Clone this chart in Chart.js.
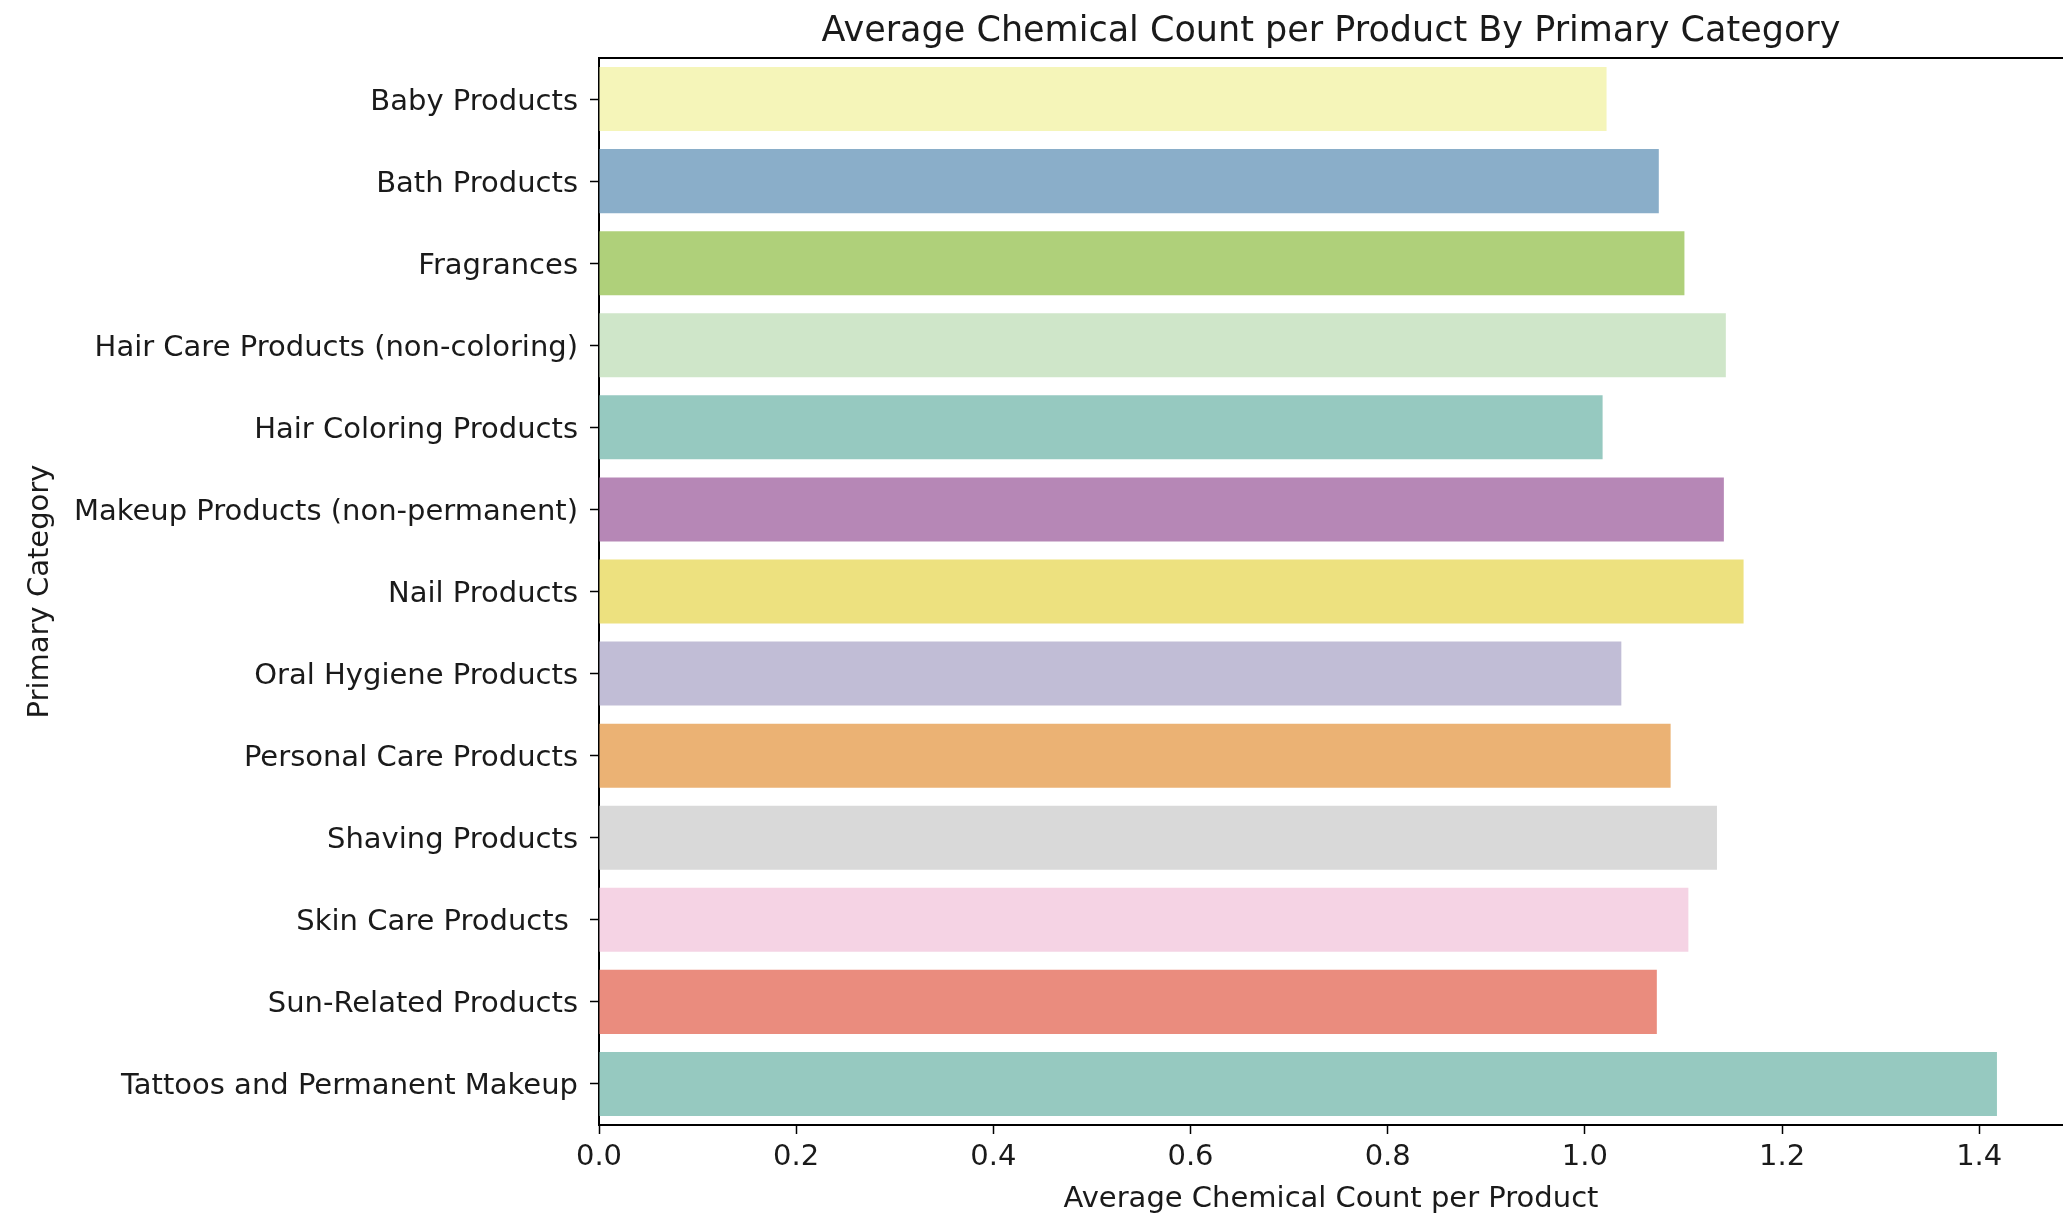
<!DOCTYPE html>
<html>
<head>
<meta charset="utf-8">
<script src="https://cdn.jsdelivr.net/npm/chart.js@4.4.1/dist/chart.umd.min.js"></script>
<style>
    html, body { margin: 0; padding: 0; background: #fff; overflow: hidden; }
    #wrap { width: 2063px; height: 1214px; }
</style>
</head>
<body>
<div id="wrap"><canvas id="chemChart" width="2063" height="1214"></canvas></div>
<script>
// Data
const categories = [
    'Baby Products',
    'Bath Products',
    'Fragrances',
    'Hair Care Products (non-coloring)',
    'Hair Coloring Products',
    'Makeup Products (non-permanent)',
    'Nail Products',
    'Oral Hygiene Products',
    'Personal Care Products',
    'Shaving Products',
    'Skin Care Products ',
    'Sun-Related Products',
    'Tattoos and Permanent Makeup'
];
const avgChemicals = [1.022, 1.075, 1.101, 1.143, 1.018, 1.141, 1.161, 1.037, 1.087, 1.134, 1.105, 1.073, 1.418];
const barColors = [
    '#f5f5b9', '#8aaec9', '#afd07a', '#cfe6c9', '#96c9c0', '#b687b6', '#ede17f',
    '#c1bdd6', '#ebb274', '#d9d9d9', '#f5d3e4', '#ea8c7e', '#96c9c0'
];
const xTickValues = [0.0, 0.2, 0.4, 0.6, 0.8, 1.0, 1.2, 1.4];

const FONT = "'DejaVu Sans', sans-serif";
const TEXT = '#1a1a1a';

// top spine (matplotlib frame); right spine falls outside the picture
const topSpine = {
    id: 'topSpine',
    afterDraw(chart) {
        const { ctx, chartArea } = chart;
        ctx.save();
        ctx.strokeStyle = '#000';
        ctx.lineWidth = 2;
        ctx.beginPath();
        ctx.moveTo(chartArea.left, chartArea.top);
        ctx.lineTo(chartArea.right + 5, chartArea.top);
        ctx.stroke();
        ctx.restore();
    }
};

const ctx = document.getElementById('chemChart').getContext('2d');
new Chart(ctx, {
    type: 'bar',
    data: {
        labels: categories,
        datasets: [{
            data: avgChemicals,
            backgroundColor: barColors,
            borderWidth: 0,
            categoryPercentage: 1.0,
            barPercentage: 0.78
        }]
    },
    plugins: [topSpine],
    options: {
        indexAxis: 'y',
        responsive: false,
        animation: false,
        devicePixelRatio: 1,
        layout: { padding: { left: 0, right: 0, top: 0, bottom: 0 } },
        plugins: {
            legend: { display: false },
            tooltip: { enabled: false },
            title: {
                display: true,
                fullSize: false,
                text: 'Average Chemical Count per Product By Primary Category',
                color: TEXT,
                font: { family: FONT, size: 35, weight: 'normal', lineHeight: 1.2 },
                padding: { top: 11, bottom: 5 }
            }
        },
        scales: {
            x: {
                type: 'linear',
                min: 0,
                max: 1.485,
                afterBuildTicks: (scale) => {
                    scale.ticks = xTickValues.map(v => ({ value: v }));
                },
                afterFit: (scale) => { scale.height = 89; },
                grid: {
                    display: true,
                    drawOnChartArea: false,
                    drawTicks: true,
                    tickLength: 9,
                    tickColor: '#000',
                    tickWidth: 1.5
                },
                border: { display: true, color: '#000', width: 2 },
                ticks: {
                    color: TEXT,
                    padding: 6,
                    maxRotation: 0,
                    font: { family: FONT, size: 29 },
                    callback: (v) => Number(v).toFixed(1)
                },
                title: {
                    display: true,
                    text: 'Average Chemical Count per Product',
                    color: TEXT,
                    font: { family: FONT, size: 29, lineHeight: 1.2 },
                    padding: { top: 0, bottom: -3 }
                }
            },
            y: {
                afterFit: (scale) => { scale.width = 599; },
                grid: {
                    display: true,
                    offset: false,
                    drawOnChartArea: false,
                    drawTicks: true,
                    tickLength: 9,
                    tickColor: '#000',
                    tickWidth: 1.5
                },
                border: { display: true, color: '#000', width: 2 },
                ticks: {
                    color: TEXT,
                    padding: 12,
                    labelOffset: 3,
                    autoSkip: false,
                    font: { family: FONT, size: 29 }
                },
                title: {
                    display: true,
                    text: 'Primary Category',
                    color: TEXT,
                    font: { family: FONT, size: 29, lineHeight: 1.2 },
                    padding: { top: 23, bottom: 0 }
                }
            }
        }
    }
});
</script>
</body>
</html>
